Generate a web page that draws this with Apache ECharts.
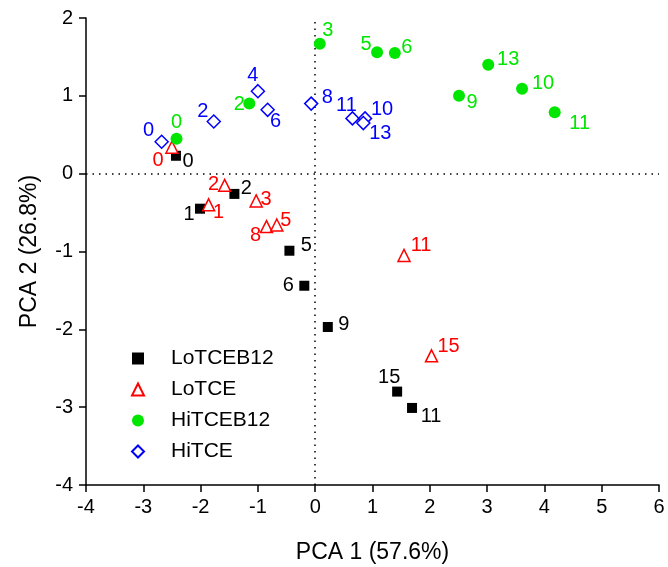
<!DOCTYPE html>
<html><head><meta charset="utf-8">
<script src="https://cdn.jsdelivr.net/npm/echarts@6/dist/echarts.min.js"></script>
<style>html,body{margin:0;padding:0;background:#fff}#c{width:668px;height:567px}</style>
</head><body><div id="c"></div>
<script>
// Data
var seriesNames = ['LoTCEB12', 'LoTCE', 'HiTCEB12', 'HiTCE'];
var loTCEB12 = [['0',-2.43,0.23],['1',-2.01,-0.45],['2',-1.41,-0.26],['5',-0.45,-0.99],['6',-0.19,-1.44],['9',0.22,-1.97],['15',1.43,-2.80],['11',1.69,-3.01]];
var loTCE = [['0',-2.50,0.34],['1',-1.86,-0.40],['2',-1.58,-0.15],['3',-1.03,-0.35],['8',-0.85,-0.68],['5',-0.67,-0.66],['11',1.55,-1.05],['15',2.03,-2.34]];
var hiTCEB12 = [['0',-2.42,0.45],['2',-1.15,0.90],['3',0.08,1.67],['5',1.08,1.56],['6',1.39,1.55],['13',3.02,1.40],['10',3.61,1.09],['9',2.51,1.00],['11',4.18,0.79]];
var hiTCE = [['0',-2.68,0.41],['2',-1.77,0.67],['4',-1.00,1.06],['6',-0.83,0.82],['8',-0.07,0.90],['11',0.65,0.71],['10',0.87,0.71],['13',0.84,0.65]];
var xTicks = [-4,-3,-2,-1,0,1,2,3,4,5,6];
var yTicks = [-4,-3,-2,-1,0,1,2];

// Label offsets (style, pixels)
var offLoB12 = [[12,6],[-11,6],[12,-5],[17,-5],[-16,0],[16,-3],[-8,-14],[19,9]];
var offLo = [[-14,13],[10,8],[-11,-1],[10,-1],[-11,9],[9,-5],[17,-10],[17,-9]];
var offHiB12 = [[0,-16],[-10,1],[8,-13],[-11,-8],[12,-6],[20,-5],[21,-5],[13,7],[25,11]];
var offHi = [[-13,-11],[-11,-10],[-5,-16],[8,12],[16,-6],[-6,-13],[17,-9],[17,10]];

var FONT = 'Liberation Sans, Arial, sans-serif';

function mk(name, arr, offs, color, symbol, size, filled) {
  return {
    name: name, type: 'scatter', symbol: symbol, symbolSize: size,
    itemStyle: filled ? {color: color, opacity: 1} : {color: '#fff', borderColor: color, borderWidth: 1.5, opacity: 1},
    data: arr.map(function (d, i) {
      return {value: [d[1], d[2]], name: d[0],
        label: {show: true, position: 'inside', offset: offs[i], formatter: d[0],
          color: color, fontSize: 20, fontFamily: FONT}};
    }),
    z: 3
  };
}

var series = [
  mk(seriesNames[0], loTCEB12, offLoB12, '#000000', 'rect', 10, true),
  mk(seriesNames[1], loTCE, offLo, '#ff0000', 'triangle', 12, false),
  mk(seriesNames[2], hiTCEB12, offHiB12, '#00e600', 'circle', 12, true),
  mk(seriesNames[3], hiTCE, offHi, '#0000ff', 'diamond', 13, false)
];
series[0].markLine = {
  silent: true, symbol: 'none', label: {show: false},
  lineStyle: {color: '#000', type: [1.5, 5], width: 1.5},
  data: [{xAxis: 0}, {yAxis: 0}], z: 1
};

var chart = echarts.init(document.getElementById('c'));
chart.setOption({
  backgroundColor: '#fff',
  animation: false,
  textStyle: {fontFamily: FONT},
  grid: {left: 86, right: 9, top: 18, bottom: 82, outerBoundsMode: 'none', containLabel: false},
  legend: {
    orient: 'vertical', left: 126, top: 343, itemGap: 10, itemWidth: 12, itemHeight: 12,
    data: seriesNames,
    textStyle: {fontSize: 21, lineHeight: 20, color: '#000', fontFamily: FONT, padding: [0, 0, 0, 22]}
  },
  xAxis: {
    type: 'value', min: xTicks[0], max: xTicks[xTicks.length - 1], interval: 1,
    name: 'PCA 1 (57.6%)', nameLocation: 'middle', nameGap: 56,
    nameTextStyle: {fontSize: 23, color: '#000', fontFamily: FONT},
    axisLine: {onZero: false, lineStyle: {color: '#000', width: 1.5}},
    axisTick: {length: 7, lineStyle: {color: '#000', width: 1.5}},
    axisLabel: {fontSize: 20, color: '#000', margin: 12, fontFamily: FONT},
    splitLine: {show: false}
  },
  yAxis: {
    type: 'value', min: yTicks[0], max: yTicks[yTicks.length - 1], interval: 1,
    name: 'PCA 2 (26.8%)', nameLocation: 'middle', nameGap: 45,
    nameTextStyle: {fontSize: 23, color: '#000', fontFamily: FONT},
    axisLine: {onZero: false, lineStyle: {color: '#000', width: 1.5}},
    axisTick: {length: 7, lineStyle: {color: '#000', width: 1.5}},
    axisLabel: {fontSize: 20, color: '#000', margin: 13, fontFamily: FONT},
    splitLine: {show: false}
  },
  series: series
});
</script></body></html>
